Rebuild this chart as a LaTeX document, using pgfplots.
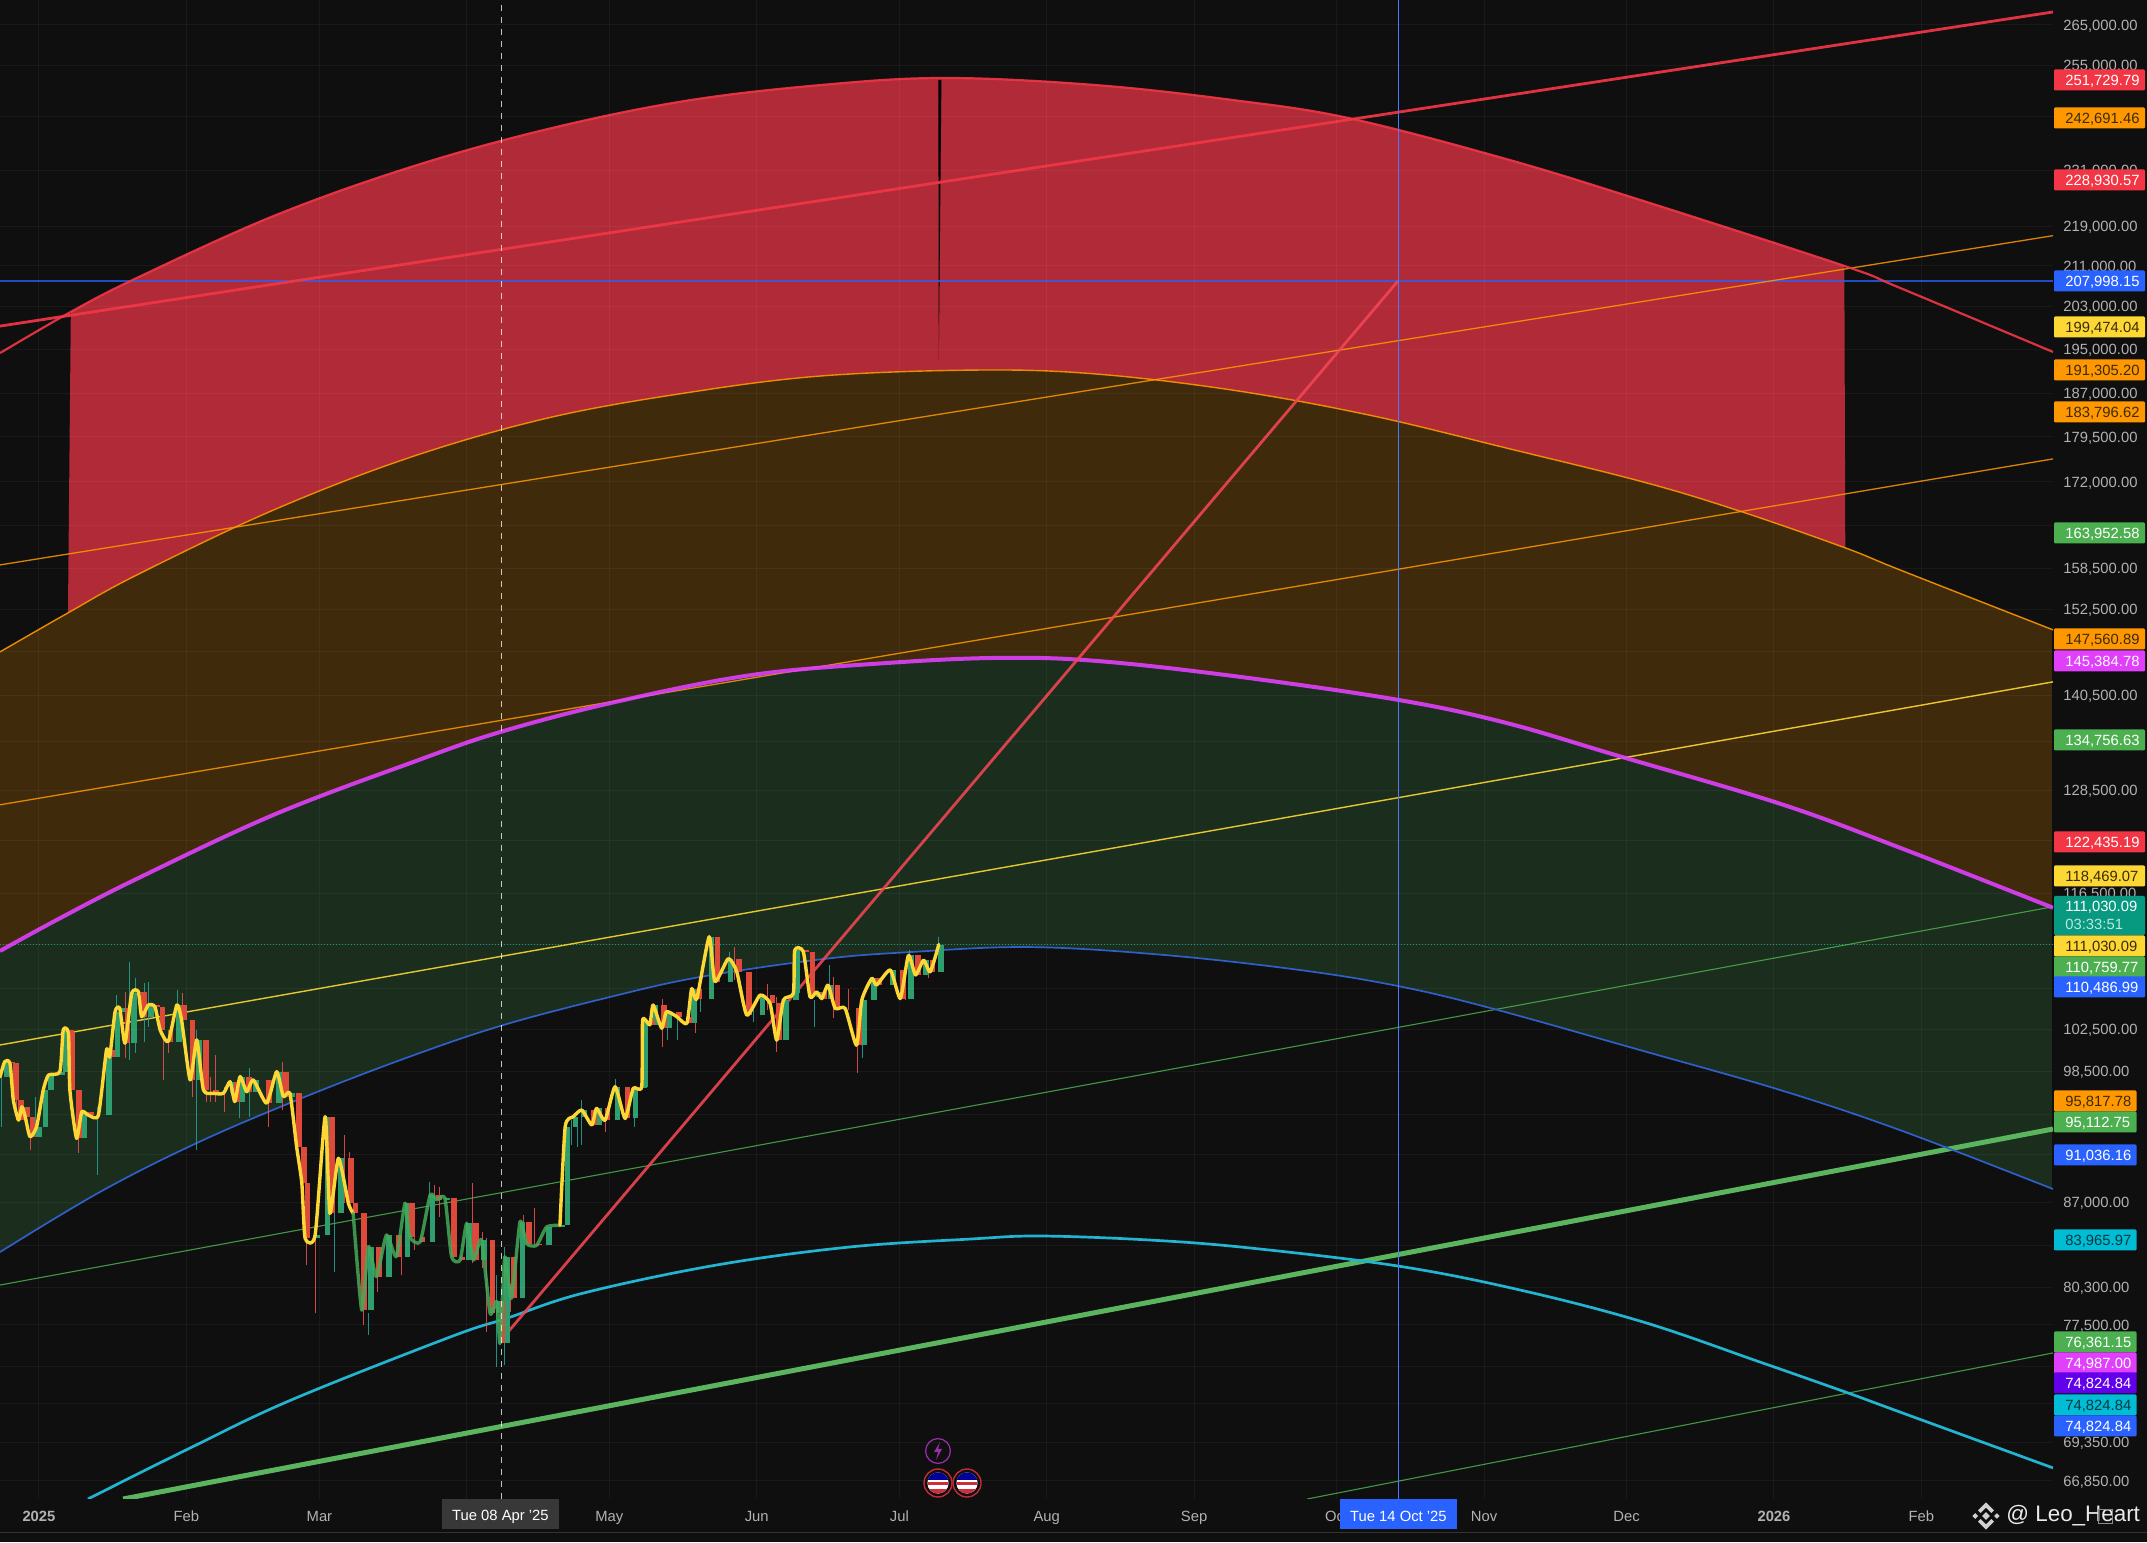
\documentclass[border=0pt]{standalone}
\usepackage{pgfplots}
\usepackage{pgfplotstable}
\pgfplotsset{compat=1.18}
\usepgfplotslibrary{fillbetween}
\usepackage{fontspec}
\setmainfont{Liberation Sans}
\definecolor{bg}{HTML}{0F0F0F}
\definecolor{tickc}{HTML}{B2B2B2}
\definecolor{fred}{HTML}{B02A37}
\definecolor{fbrown}{HTML}{402A0C}
\definecolor{fgreen}{HTML}{1B2D1C}
\definecolor{lred}{HTML}{F23645}
\definecolor{lorange}{HTML}{FF9800}
\definecolor{lyellow}{HTML}{FDD835}
\definecolor{lgreen}{HTML}{4CAF50}
\definecolor{lblue}{HTML}{2962FF}
\definecolor{lcyan}{HTML}{00BCD4}
\definecolor{lmag}{HTML}{E040FB}
\definecolor{lpurple}{HTML}{6200EA}
\definecolor{lteal}{HTML}{089981}
\definecolor{cup}{HTML}{2E9E6E}
\definecolor{cdn}{HTML}{DD4A3A}
\definecolor{wup}{HTML}{26A69A}
\definecolor{wdn}{HTML}{EF5350}
\definecolor{dk}{HTML}{3A2A08}
\definecolor{arcblue}{HTML}{2F5FC8}
\definecolor{arccyan}{HTML}{22B4D0}
\newcommand\lf{\fontsize{7.4}{9}\selectfont}
\newcommand\lab[5]{\fill[#2,rounded corners=0.6pt] (1027,{(1542-#1)/2-5.25}) rectangle (#5,{(1542-#1)/2+5.25});
\node[anchor=base west,inner sep=0pt,text=#3,font=\lf] at (1032.5,{(1542-#1)/2-2.65}) {#4};}
\pgfplotstableread[row sep=\\]{x y\\ -8.2 194320\\ 6.7 202000\\ 20.6 208600\\ 49.4 221200\\ 78.3 231700\\ 107.1 240170\\ 135.9 246620\\ 164.5 250370\\ 190.6 252040\\ 222.2 250370\\ 251.0 246850\\ 275.4 242680\\ 308.6 233450\\ 337.5 224360\\ 379.8 210980\\ 391.5 206640\\ 423.7 194500\\}\redarc
\pgfplotstableread[row sep=\\]{x y\\ -8.2 146450\\ 6.1 151950\\ 20.6 157510\\ 49.4 167500\\ 78.3 176110\\ 107.1 182730\\ 135.9 187100\\ 164.5 190140\\ 197.8 191220\\ 222.2 190500\\ 251.0 187640\\ 279.8 183250\\ 308.6 177620\\ 337.5 171990\\ 357.7 167340\\ 380.0 161590\\ 391.5 158260\\ 423.7 149530\\}\orangearc
\pgfplotstableread[row sep=\\]{x y\\ -8.2 110350\\ 3.8 113660\\ 20.6 118150\\ 49.4 125530\\ 78.3 131860\\ 97.2 135780\\ 121.4 139690\\ 150.2 143300\\ 179.0 144940\\ 202.2 145620\\ 222.2 145210\\ 251.0 143160\\ 285.9 139950\\ 308.6 136940\\ 332.2 132730\\ 366.3 126840\\ 391.5 121670\\ 423.7 114960\\}\magarc
\pgfplotstableread[row sep=\\]{x y\\ -8.2 83000\\ 12.8 87850\\ 33.2 92020\\ 54.3 95840\\ 76.0 99530\\ 97.0 102790\\ 120.1 105650\\ 139.1 107670\\ 164.9 109510\\ 183.3 110240\\ 208.5 110760\\ 236.9 109930\\ 265.3 108380\\ 285.9 106750\\ 305.3 104560\\ 336.8 100480\\ 366.3 96750\\ 391.5 93150\\ 423.7 88100\\}\bluearc
\pgfplotstableread[row sep=\\]{x y\\ 10.3 65710\\ 31.8 68960\\ 53.0 72160\\ 86.5 76600\\ 98.5 77980\\ 114.5 79850\\ 142.6 81990\\ 170.6 83400\\ 195.9 84030\\ 210.6 84270\\ 233.8 83950\\ 254.8 83320\\ 285.9 81910\\ 311.6 80070\\ 337.5 77690\\ 362.1 74800\\ 380.0 72710\\ 391.5 71350\\ 423.7 67670\\}\cyanarc
\begin{document}
\begin{tikzpicture}
\fill[bg] (1026pt,0pt) rectangle (1073.5pt,771pt);
\fill[bg] (0pt,0pt) rectangle (1073.5pt,21.6pt);
\begin{axis}[at={(0pt,21.5pt)},anchor=south west,scale only axis,width=1026.5pt,height=749.5pt,
 axis background/.style={fill=bg},
 ymode=log,xmin=-8.2,xmax=423.7,ymin=65710,ymax=271340,
 axis line style={draw=none},tick style={draw=none},axis on top,
 grid=major,grid style={white,opacity=0.045,line width=0.5pt},
 ytick pos=right,yticklabel pos=right,
 ytick={66850,69350,71900,74500,77500,80300,83500,87000,91000,94500,98500,102500,106500,111000,116500,122500,128500,134500,140500,146500,152500,158500,165000,172000,179500,187000,195000,203000,211000,219000,231000,243000,255000,265000},
 yticklabels={{66,850.00},{69,350.00},{},{},{77,500.00},{80,300.00},{},{87,000.00},{},{},{98,500.00},{102,500.00},{},{},{116,500.00},{},{128,500.00},{},{140,500.00},{},{152,500.00},{158,500.00},{},{172,000.00},{179,500.00},{187,000.00},{195,000.00},{203,000.00},{211,000.00},{219,000.00},{231,000.00},{},{255,000.00},{265,000.00}},
 yticklabel style={anchor=west,inner sep=0pt,xshift=5pt,text=tickc,font=\lf,text height=5.3pt,text depth=0pt},
 xtick={0,31,59,90,120,151,181,212,243,273,304,334,365,396},
 xticklabels={\textbf{2025},Feb,Mar,{},May,Jun,Jul,Aug,Sep,Oct,Nov,Dec,\textbf{2026},Feb},
 xticklabel style={text=tickc,font=\lf,inner sep=0pt,yshift=-5.7pt,anchor=north,text height=5.3pt,text depth=0pt},
 clip=true]
% invisible boundaries of the zones
\addplot[draw=none,smooth,tension=0.6,name path=RB,restrict x to domain=6:381,forget plot] table {\redarc};
\addplot[draw=none,smooth,tension=0.6,name path=OB,restrict x to domain=6:381,forget plot] table {\orangearc};
\addplot[draw=none,smooth,tension=0.6,name path=OA,forget plot] table {\orangearc};
\addplot[draw=none,smooth,tension=0.6,name path=MA,forget plot] table {\magarc};
\addplot[draw=none,smooth,tension=0.6,name path=BA,forget plot] table {\bluearc};
\addplot[fred] fill between[of=RB and OB];
\addplot[fbrown] fill between[of=OA and MA];
\addplot[fgreen] fill between[of=MA and BA];
% black sliver
\addplot[fill=black,draw=none] coordinates {(189.2,251560)(189.85,251560)(189.3,193030)} -- cycle;
% horizontal levels
\addplot[lblue,opacity=0.75,line width=0.7pt] coordinates {(-8.2,207998)(423.7,207998)};
\addplot[lteal,densely dotted,line width=0.5pt] coordinates {(-8.2,111030)(423.7,111030)};
% channel lines
\addplot[lorange,line width=0.65pt,opacity=0.85] coordinates {(-8.2,159010)(423.7,217110)};
\addplot[lorange,line width=0.65pt,opacity=0.85] coordinates {(-8.2,126720)(423.7,175780)};
\addplot[lyellow,line width=0.7pt,opacity=0.9] coordinates {(-8.2,100960)(423.7,142350)};
\addplot[lgreen,line width=0.55pt,opacity=0.85] coordinates {(-8.2,80450)(423.7,115070)};
\addplot[lgreen,line width=0.55pt,opacity=0.85] coordinates {(266.8,65710)(423.7,75450)};
\addplot[lgreen!92!white,line width=2.5pt] coordinates {(17.7,65710)(423.7,93250)};
\addplot[lred,line width=1.4pt,opacity=0.92] coordinates {(-8.2,199350)(423.7,268280)};
% arcs
\addplot[lred,line width=1.1pt,opacity=0.9,smooth,tension=0.6] table {\redarc};
\addplot[lorange,line width=0.7pt,opacity=0.9,smooth,tension=0.6] table {\orangearc};
\addplot[arcblue,line width=0.85pt,smooth,tension=0.6] table {\bluearc};
\addplot[arccyan,line width=1.35pt,smooth,tension=0.6] table {\cyanarc};
\addplot[lmag,line width=2.0pt,opacity=0.9,smooth,tension=0.6] table {\magarc};
% diagonal
\addplot[lred!92!white,line width=1.4pt,opacity=0.88] coordinates {(98.5,76890)(285.9,208000)};
% wicks up
\addplot[wup,line width=0.5pt,opacity=0.85] coordinates {
(-7.9,98920)(-7.9,93450)

(-0.8,96150)(-0.8,92570)

(12.3,95230)(12.3,89260)

(9.0,95850)(9.0,92430)

(16.3,105850)(16.3,100170)

(19.1,109200)(19.1,99550)

(20.3,107530)(20.3,100170)

(22.1,107050)(22.1,101290)

(23.1,107210)(23.1,102730)

(29.1,106390)(29.1,103370)

(33.2,102400)(33.2,91400)

(44.2,98750)(44.2,94340)

(42.1,95700)(42.1,94200)

(62.1,87740)(62.1,81460)

(69.3,78340)(69.3,76730)

(82.1,88720)(82.1,87340)

(96.3,81200)(96.3,74460)

(98.0,83400)(98.0,74580)

(112.0,94030)(112.0,91850)

(113.3,93740)(113.3,91700)

(114.2,95830)(114.2,91850)

(121.2,97800)(121.2,96500)

(125.2,97060)(125.2,93440)

(132.2,104190)(132.2,101420)

(134.3,103700)(134.3,101420)

(139.1,106170)(139.1,104190)

(145.2,110270)(145.2,108200)

(150.3,104360)(150.3,103200)

(163.1,105340)(163.1,102690)

(166.2,108880)(166.2,105500)

(173.2,105340)(173.2,99690)

(182.2,107000)(182.2,105340)

(183.2,110440)(183.2,108720)

(189.2,111870)(189.2,108720)
};
% wicks down
\addplot[wdn,line width=0.5pt,opacity=0.85] coordinates {
(-1.8,92570)(-1.8,91400)

(8.3,92430)(8.3,91130)

(-4.7,97370)(-4.7,94040)

(15.1,99860)(15.1,97370)

(18.1,106180)(18.1,99700)

(26.2,101770)(26.2,97680)

(27.2,101290)(27.2,100170)

(30.2,106020)(30.2,102730)

(32.3,97680)(32.3,96150)

(35.3,99060)(35.3,95700)

(36.1,97980)(36.1,95700)

(37.1,100000)(37.1,95700)

(39.1,97060)(39.1,94780)

(48.2,96450)(48.2,93450)

(51.3,99390)(51.3,94910)

(55.3,92570)(55.3,91130)

(56.3,88580)(56.3,82000)

(58.1,84210)(58.1,78340)

(61.2,86100)(61.2,85140)

(64.2,92720)(64.2,86920)

(65.3,91280)(65.3,86350)

(68.2,78580)(68.2,77480)

(71.2,81090)(71.2,79950)

(76.3,82640)(76.3,81230)

(79.1,84210)(79.1,83200)

(83.2,88450)(83.2,86100)

(84.2,88300)(84.2,85830)

(91.2,88580)(91.2,82140)

(93.3,84610)(93.3,81730)

(94.2,84080)(94.2,77000)

(99.1,80530)(99.1,78450)

(102.0,85960)(102.0,83950)

(104.2,86500)(104.2,83530)

(119.1,94620)(119.1,93000)

(131.1,105500)(131.1,100800)

(138.2,105500)(138.2,102070)

(146.3,110780)(146.3,107410)

(153.2,106990)(153.2,104360)

(155.2,105670)(155.2,100300)

(167.1,107700)(167.1,103550)

(170.4,106490)(170.4,104360)

(172.2,100780)(172.2,98280)

(187.1,108200)(187.1,107530)
};
% bodies up
\addplot[cup,line width=2.8pt,xshift=1.2pt] coordinates {
(-7.2,97960)(-7.2,99390)

(-3.6,94040)(-3.6,95230)

(-0.5,92570)(-0.5,93450)

(0.9,93450)(0.9,96750)

(2.0,96750)(2.0,98130)

(4.4,98130)(4.4,98440)

(5.1,98440)(5.1,102400)

(9.0,92430)(9.0,94780)

(14.2,94480)(14.2,100480)

(16.0,99860)(16.0,104180)

(17.0,104180)(17.0,104510)

(19.5,101130)(19.5,106020)

(20.9,106020)(20.9,106180)

(23.0,103700)(23.0,104850)

(29.0,101290)(29.0,104850)

(33.2,97680)(33.2,101450)

(40.2,96450)(40.2,97520)

(42.3,95700)(42.3,97980)

(45.1,96600)(45.1,97680)

(50.0,95550)(50.0,98440)

(52.8,96150)(52.8,96450)

(58.1,84080)(58.1,84350)

(60.2,84350)(60.2,94340)

(63.0,86100)(63.0,90700)

(69.3,78580)(69.3,83430)

(73.1,81090)(73.1,84350)

(77.0,82640)(77.0,86920)

(82.3,83810)(82.3,87610)

(85.4,87190)(85.4,87340)

(90.0,82380)(90.0,85290)

(93.1,82380)(93.1,83950)

(96.3,78340)(96.3,79220)

(98.0,76130)(98.0,82630)

(101.2,79440)(101.2,85410)

(106.8,83530)(106.8,85000)

(109.6,85000)(109.6,85130)

(110.7,85130)(110.7,93440)

(112.4,93440)(112.4,94340)

(114.2,94340)(114.2,94930)

(117.3,93600)(117.3,95080)

(121.2,94030)(121.2,97060)

(125.0,94180)(125.0,96900)

(126.8,96900)(126.8,97060)

(127.0,97060)(127.0,103370)

(129.2,102900)(129.2,104850)

(132.0,102580)(132.0,104190)

(137.3,103050)(137.3,106490)

(141.0,105500)(141.0,111850)

(145.0,107200)(145.0,109550)

(151.7,103860)(151.7,105840)

(156.6,101420)(156.6,105340)

(158.7,105340)(158.7,106010)

(159.0,106010)(159.0,110440)

(163.6,105670)(163.6,106170)

(166.0,105500)(166.0,106850)

(173.1,100930)(173.1,105340)

(175.2,105340)(175.2,107530)

(179.1,106850)(179.1,108380)

(182.9,105500)(182.9,109900)

(186.1,107880)(186.1,109400)

(189.3,108200)(189.3,111030)
};
% bodies down
\addplot[cdn,line width=2.8pt,xshift=1.2pt] coordinates {
(-6.1,99390)(-6.1,99230)

(-5.4,99230)(-5.4,95850)

(-4.3,95850)(-4.3,94040)

(-2.9,95230)(-2.9,94340)

(-1.9,94340)(-1.9,92570)

(6.2,102400)(6.2,102080)

(6.5,102080)(6.5,96750)

(7.9,96750)(7.9,92430)

(10.4,94780)(10.4,94480)

(14.9,100480)(14.9,99860)

(18.1,104510)(18.1,101130)

(21.6,106180)(21.6,103700)

(24.4,104850)(24.4,104680)

(25.5,104680)(25.5,102400)

(27.2,102400)(27.2,101290)

(30.0,104850)(30.0,103370)

(31.8,103370)(31.8,97680)

(34.6,101450)(34.6,96750)

(36.7,96750)(36.7,96450)

(41.2,97520)(41.2,95700)

(43.7,97980)(43.7,96600)

(47.9,97680)(47.9,95550)

(51.4,98440)(51.4,96150)

(54.2,96450)(54.2,91710)

(55.3,91710)(55.3,88580)

(56.0,88580)(56.0,84080)

(61.2,94340)(61.2,86100)

(65.1,90700)(65.1,86920)

(66.1,86920)(66.1,86100)

(67.9,86100)(67.9,78580)

(71.0,83430)(71.0,81090)

(75.2,84350)(75.2,82640)

(78.0,86920)(78.0,84210)

(80.2,84210)(80.2,83810)

(83.7,87610)(83.7,87190)

(86.8,87340)(86.8,82640)

(88.6,82640)(88.6,82380)

(91.4,85290)(91.4,82380)

(94.9,83950)(94.9,78340)

(97.0,79220)(97.0,76130)

(99.4,82630)(99.4,79440)

(102.6,85410)(102.6,83660)

(104.7,83660)(104.7,83530)

(116.3,94930)(116.3,93600)

(119.1,95080)(119.1,94030)

(123.3,97060)(123.3,94180)

(128.5,103370)(128.5,102900)

(131.0,104850)(131.0,102580)

(134.2,104190)(134.2,103700)

(136.3,103700)(136.3,103050)

(138.4,106490)(138.4,105500)

(142.2,111850)(142.2,107200)

(146.8,109550)(146.8,108200)

(148.9,108200)(148.9,103860)

(153.8,105840)(153.8,105010)

(155.2,105010)(155.2,101420)

(160.8,110440)(160.8,110270)

(162.2,110270)(162.2,105670)

(164.7,106170)(164.7,105500)

(167.5,106850)(167.5,104520)

(172.0,104520)(172.0,100930)

(176.2,107530)(176.2,106850)

(181.2,108380)(181.2,105500)

(184.4,109900)(184.4,107880)

(187.5,109400)(187.5,108200)
};
% smoothed overlay
\addplot[lyellow,line width=1.7pt,smooth,tension=0.35,line cap=round,line join=round] coordinates {(-8.2,97960)(-7.2,99390)(-6.1,99230)(-5.4,95850)(-4.3,94040)(-3.6,95230)(-2.9,94340)(-1.9,92570)(-0.5,93450)(0.9,96750)(2.0,98130)(4.4,98440)(5.1,102400)(6.2,102080)(6.5,96750)(7.9,92430)(9.0,94780)(10.4,94480)(12.5,94480)(14.2,100480)(14.9,99860)(16.0,104180)(17.0,104510)(18.1,101130)(19.5,106020)(20.9,106180)(21.6,103700)(23.0,104850)(24.4,104680)(25.5,102400)(27.2,101290)(29.0,104850)(30.0,103370)(31.8,97680)(33.2,101450)(34.6,96750)(36.7,96450)(38.8,96450)(40.2,97520)(41.2,95700)(42.3,97980)(43.7,96600)(45.1,97680)(47.9,95550)(50.0,98440)(51.4,96150)(52.8,96450)(54.2,91710)(55.3,88580)(56.0,84080)(58.1,84350)(60.2,94340)(61.2,86100)(63.0,90700)(65.1,86920)(66.1,86100)};
\addplot[lgreen!70!cup,line width=1.7pt,opacity=0.85,smooth,tension=0.35,line cap=round,line join=round] coordinates {(66.1,86100)(67.9,78580)(69.3,83430)(71.0,81090)(73.1,84350)(75.2,82640)(77.0,86920)(78.0,84210)(80.2,83810)(82.3,87610)(83.7,87190)(85.4,87340)(86.8,82640)(88.6,82380)(90.0,85290)(91.4,82380)(93.1,83950)(94.9,78340)(96.3,79220)(97.0,76130)(98.0,82630)(99.4,79440)(101.2,85410)(102.6,83660)(104.7,83530)(106.8,85000)(109.6,85130)};
\addplot[lyellow,line width=1.7pt,smooth,tension=0.35,line cap=round,line join=round] coordinates {(109.6,85130)(110.7,93440)(112.4,94340)(114.2,94930)(116.3,93600)(117.3,95080)(119.1,94030)(121.2,97060)(123.3,94180)(125.0,96900)(126.8,97060)(127.0,103370)(128.5,102900)(129.2,104850)(131.0,102580)(132.0,104190)(134.2,103700)(136.3,103050)(137.3,106490)(138.4,105500)(141.0,111850)(142.2,107200)(145.0,109550)(146.8,108200)(148.9,103860)(151.7,105840)(153.8,105010)(155.2,101420)(156.6,105340)(158.7,106010)(159.0,110440)(160.8,110270)(162.2,105670)(163.6,106170)(164.7,105500)(166.0,106850)(167.5,104520)(169.6,104520)(172.0,100930)(173.1,105340)(175.2,107530)(176.2,106850)(179.1,108380)(181.2,105500)(182.9,109900)(184.4,107880)(186.1,109400)(187.5,108200)(189.3,111030)};
% cursors
\addplot[white,opacity=0.75,line width=0.45pt,dash pattern=on 3pt off 3pt] coordinates {(97.2,65710)(97.2,271340)};
\addplot[lblue!85!white,line width=0.7pt] coordinates {(286,65710)(286,271340)};
\end{axis}
\begin{scope}[x=1pt,y=1pt]
% price labels
\lab{80}{lred}{white}{251,729.79}{1072.5}
\lab{118}{lorange}{dk}{242,691.46}{1072.5}
\lab{180}{lred}{white}{228,930.57}{1072.5}
\lab{281}{lblue}{white}{207,998.15}{1072.5}
\lab{327}{lyellow}{dk}{199,474.04}{1072.5}
\lab{370}{lorange}{dk}{191,305.20}{1072.5}
\lab{412}{lorange}{dk}{183,796.62}{1072.5}
\lab{533}{lgreen}{white}{163,952.58}{1072.5}
\lab{639}{lorange}{dk}{147,560.89}{1072.5}
\lab{661}{lmag}{white}{145,384.78}{1072.5}
\lab{740}{lgreen}{white}{134,756.63}{1072.5}
\lab{842}{lred}{white}{122,435.19}{1072.5}
\lab{876}{lyellow}{dk}{118,469.07}{1072.5}
\fill[lteal,rounded corners=0.6pt] (1027,303.5) rectangle (1072.5,323);
\node[anchor=base west,inner sep=0pt,text=white,font=\lf] at (1032.5,315.2) {111,030.09};
\node[anchor=base west,inner sep=0pt,text=white!75!lteal,font=\lf] at (1032.5,306.4) {03:33:51};
\lab{946}{lyellow}{dk}{111,030.09}{1072.5}
\lab{967}{lgreen}{white}{110,759.77}{1072.5}
\lab{987}{lblue}{white}{110,486.99}{1072.5}
\lab{1101}{lorange}{dk}{95,817.78}{1068.3}
\lab{1122}{lgreen}{white}{95,112.75}{1068.3}
\lab{1155}{lblue}{white}{91,036.16}{1068.3}
\lab{1240}{lcyan}{black!70!lcyan}{83,965.97}{1068.3}
\lab{1342}{lgreen}{white}{76,361.15}{1068.3}
\lab{1363}{lmag}{white}{74,987.00}{1068.3}
\lab{1383}{lpurple}{white}{74,824.84}{1068.3}
\lab{1405}{lcyan}{black!70!lcyan}{74,824.84}{1068.3}
\lab{1426}{lblue}{white}{74,824.84}{1068.3}
% crosshair date labels
\fill[black!78!white] (221,6.5) rectangle (279.5,21.5);
\node[text=white,font=\lf,inner sep=0pt] at (250.2,12.8) {Tue 08 Apr '25};
\fill[lblue] (670,6.5) rectangle (728.5,21.5);
\node[text=white,font=\lf,inner sep=0pt] at (699.2,12.8) {Tue 14 Oct '25};
% bottom rule
\draw[white!20!black,line width=0.5pt] (0,4.5) -- (1073.5,4.5);
% event icons
\draw[lmag!70!black,line width=0.6pt,fill=bg] (469,45.5) circle (6.2);
\fill[lmag!70!black] (470,50) -- (467,45) -- (469,45) -- (468,41) -- (471,46.5) -- (469,46.5) -- cycle;
\foreach \cx in {469,483.5}{
 \draw[lred!80!black,line width=0.7pt,fill=bg] (\cx,29.5) circle (7);
 \begin{scope}
 \clip (\cx,29.5) circle (5.3);
 \fill[white] (\cx-6,24) rectangle (\cx+6,35);
 \fill[lred!85!black] (\cx-6,24) rectangle (\cx+6,26.5);
 \fill[lred!85!black] (\cx-6,28.7) rectangle (\cx+6,30);
 \fill[blue!60!black] (\cx-6,31) rectangle (\cx+6,35);
 \end{scope}
}
% watermark
\begin{scope}[shift={(993,13)}]
\fill[white!82!black] (-4,2.8)--(0,6.8)--(4,2.8)--(2.7,1.5)--(0,4.2)--(-2.7,1.5)--cycle;
\fill[white!82!black] (-4,-2.8)--(0,-6.8)--(4,-2.8)--(2.7,-1.5)--(0,-4.2)--(-2.7,-1.5)--cycle;
\fill[white!82!black] (-1.9,0)--(0,1.9)--(1.9,0)--(0,-1.9)--cycle;
\fill[white!82!black] (-6.8,0)--(-5.4,1.4)--(-4,0)--(-5.4,-1.4)--cycle;
\fill[white!82!black] (6.8,0)--(5.4,1.4)--(4,0)--(5.4,-1.4)--cycle;
\end{scope}
\node[anchor=west,inner sep=0pt,text=white!92!black,font=\fontsize{11.2}{13}\selectfont] at (1003,13) {@ Leo\_Heart};
\draw[white!55!black,line width=0.4pt] (1049,9.5) rectangle (1056,16.5);
\end{scope}
\pgfresetboundingbox
\useasboundingbox (0pt,0pt) rectangle (1073.5pt,771pt);
\end{tikzpicture}
\end{document}
